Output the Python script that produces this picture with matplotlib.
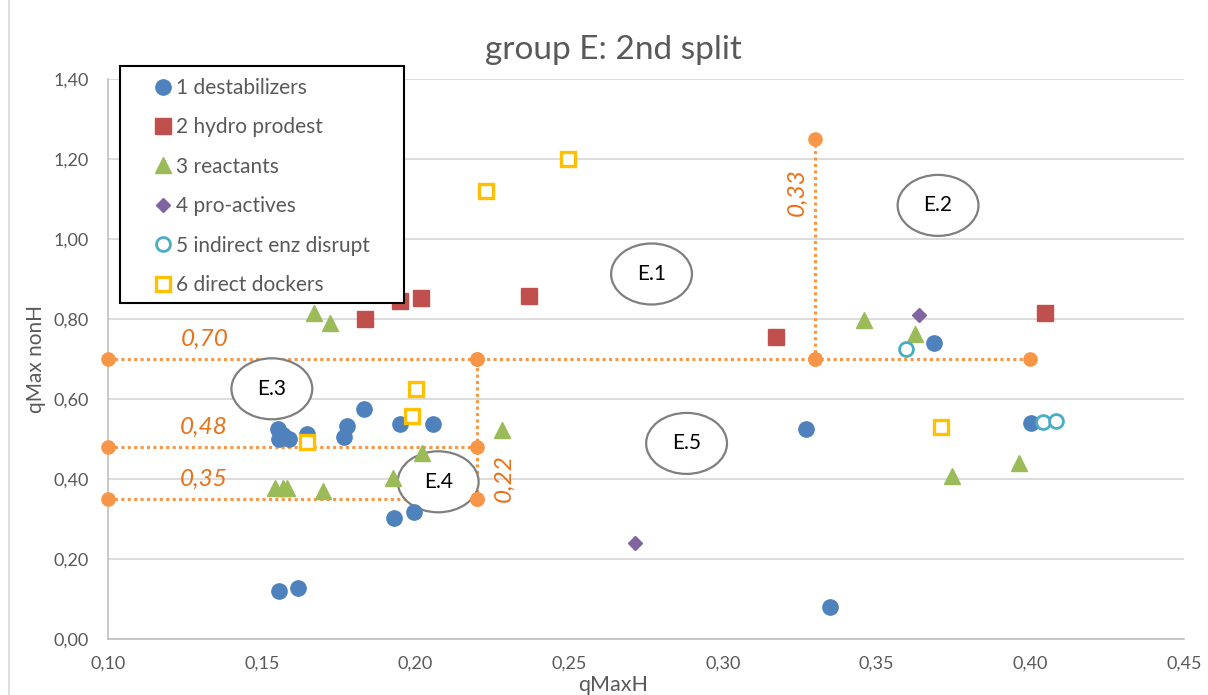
import matplotlib
matplotlib.use("Agg")
import matplotlib.pyplot as plt
from matplotlib.patches import Ellipse, Rectangle
from matplotlib.lines import Line2D

plt.rcParams['font.family'] = ['Lato', 'DejaVu Sans']

# ---- data -------------------------------------------------------------
destab_x = [0.1554, 0.1556, 0.157, 0.159, 0.1647, 0.1776, 0.1769, 0.1834, 0.195, 0.2058,
            0.1931, 0.1996, 0.1556, 0.1619, 0.3272, 0.3348, 0.3686, 0.4002]
destab_y = [0.524, 0.500, 0.510, 0.500, 0.512, 0.532, 0.504, 0.574, 0.537, 0.537,
            0.302, 0.318, 0.120, 0.127, 0.524, 0.081, 0.739, 0.539]

hydro_x = [0.1836, 0.195, 0.2017, 0.237, 0.3172, 0.4048]
hydro_y = [0.799, 0.846, 0.852, 0.857, 0.756, 0.816]

react_x = [0.1671, 0.1722, 0.1543, 0.157, 0.1583, 0.170, 0.1926, 0.202, 0.228,
           0.346, 0.3625, 0.3745, 0.3963]
react_y = [0.814, 0.789, 0.377, 0.377, 0.377, 0.371, 0.402, 0.466, 0.5225,
           0.7975, 0.7625, 0.4075, 0.441]

proact_x = [0.3637, 0.2714]
proact_y = [0.809, 0.239]

indirect_x = [0.3597, 0.4042, 0.4083]
indirect_y = [0.726, 0.542, 0.546]

direct_x = [0.1646, 0.199, 0.2002, 0.223, 0.2495, 0.3708]
direct_y = [0.4925, 0.5575, 0.624, 1.12, 1.20, 0.531]

# threshold guide lines (x values, y values)
thr_h70_x = [0.10, 0.22, 0.33, 0.40]
thr_h70_y = [0.70, 0.70, 0.70, 0.70]
thr_h48_x = [0.10, 0.22]
thr_h48_y = [0.48, 0.48]
thr_h35_x = [0.10, 0.22]
thr_h35_y = [0.35, 0.35]
thr_v22_x = [0.22, 0.22]
thr_v22_y = [0.35, 0.70]
thr_v33_x = [0.33, 0.33]
thr_v33_y = [0.70, 1.25]

thr_labels = ["0,70", "0,48", "0,35", "0,22", "0,33"]

# sub-group markers
group_names = ["E.1", "E.2", "E.3", "E.4", "E.5"]
group_x = [0.2768, 0.370, 0.1533, 0.2074, 0.2882]
group_y = [0.9125, 1.084, 0.6255, 0.393, 0.489]

x_ticks = [0.10, 0.15, 0.20, 0.25, 0.30, 0.35, 0.40, 0.45]
x_ticklabels = ["0,10", "0,15", "0,20", "0,25", "0,30", "0,35", "0,40", "0,45"]
y_ticks = [0.0, 0.2, 0.4, 0.6, 0.8, 1.0, 1.2, 1.4]
y_ticklabels = ["0,00", "0,20", "0,40", "0,60", "0,80", "1,00", "1,20", "1,40"]

series_labels = ["1 destabilizers", "2 hydro prodest", "3 reactants",
                 "4 pro-actives", "5 indirect enz disrupt", "6 direct dockers"]

# ---- style ------------------------------------------------------------
W, H = 1208, 695
BLUE, RED, GREEN, PURPLE, CYAN, GOLD = "#4F81BD", "#C0504D", "#9BBB59", "#8064A2", "#4BACC6", "#FFC000"
ORANGE = "#F79646"
ORANGE_TXT = "#E8711A"
GREY_TXT = "#595959"

fig = plt.figure(figsize=(W / 100, H / 100), dpi=100)
ax = fig.add_axes([108 / W, 1 - 639 / H, (1184 - 108) / W, (639 - 79) / H])

ax.set_xlim(0.10, 0.45)
ax.set_ylim(0.0, 1.40)
ax.set_xticks(x_ticks)
ax.set_xticklabels(x_ticklabels)
ax.set_yticks(y_ticks)
ax.set_yticklabels(y_ticklabels)
ax.tick_params(length=0, labelsize=13, labelcolor=GREY_TXT)
ax.tick_params(axis='x', pad=12)
ax.tick_params(axis='y', pad=14)
ax.grid(axis='y', color="#D9D9D9", lw=1.3)
ax.set_axisbelow(True)
for s in ["top", "right"]:
    ax.spines[s].set_visible(False)
for s in ["left", "bottom"]:
    ax.spines[s].set_color("#BFBFBF")
    ax.spines[s].set_linewidth(1.2)

# threshold lines
dot_style = dict(color=ORANGE, lw=2.2, linestyle=(0, (1, 1.1)), zorder=2, clip_on=False)
for xs, ys in [(thr_h70_x, thr_h70_y), (thr_h48_x, thr_h48_y), (thr_h35_x, thr_h35_y),
               (thr_v22_x, thr_v22_y), (thr_v33_x, thr_v33_y)]:
    ax.plot(xs, ys, **dot_style)
    ax.plot(xs, ys, linestyle="none", marker="o", ms=9.5, color=ORANGE, zorder=4, clip_on=False)

lab_kw = dict(color=ORANGE_TXT, fontsize=17.5, style="italic", zorder=6)
ax.text(0.1315, 0.748, thr_labels[0], ha="center", va="center", **lab_kw)
ax.text(0.131, 0.528, thr_labels[1], ha="center", va="center", **lab_kw)
ax.text(0.131, 0.400, thr_labels[2], ha="center", va="center", **lab_kw)
ax.text(0.2290, 0.402, thr_labels[3], ha="center", va="center", rotation=90, **lab_kw)
ax.text(0.3240, 1.1175, thr_labels[4], ha="center", va="center", rotation=90, **lab_kw)

# sub-group ellipses
for name, gx, gy in zip(group_names, group_x, group_y):
    ax.add_patch(Ellipse((gx, gy), 0.0263, 0.1525, facecolor="white",
                         edgecolor="#7F7F7F", lw=1.6, zorder=3))
    ax.text(gx, gy, name, ha="center", va="center", fontsize=15, color="black", zorder=3.5)

# data series
ax.plot(destab_x, destab_y, "o", ms=11, color=BLUE, mec=BLUE, zorder=5)
ax.plot(hydro_x, hydro_y, "s", ms=11, color=RED, mec=RED, zorder=5)
ax.plot(react_x, react_y, "^", ms=11.5, color=GREEN, mec=GREEN, zorder=5)
ax.plot(proact_x, proact_y, "D", ms=7.3, color=PURPLE, mec=PURPLE, zorder=5)
ax.plot(indirect_x, indirect_y, "o", ms=10, mfc="white", mec=CYAN, mew=2.0, zorder=5)
ax.plot(direct_x, direct_y, "s", ms=10, mfc="white", mec=GOLD, mew=2.4, zorder=5)

# legend
handles = [
    Line2D([], [], ls="none", marker="o", ms=11, color=BLUE),
    Line2D([], [], ls="none", marker="s", ms=11, color=RED),
    Line2D([], [], ls="none", marker="^", ms=11.5, color=GREEN),
    Line2D([], [], ls="none", marker="D", ms=7.3, color=PURPLE),
    Line2D([], [], ls="none", marker="o", ms=10, mfc="white", mec=CYAN, mew=2.0),
    Line2D([], [], ls="none", marker="s", ms=10, mfc="white", mec=GOLD, mew=2.4),
]
leg = fig.legend(handles, series_labels, loc="upper left",
                 bbox_to_anchor=(154 / W, 1 - 78 / H), frameon=False,
                 fontsize=15, handlelength=0.9, handletextpad=0.15,
                 labelspacing=0.93, borderpad=0, borderaxespad=0)
for t in leg.get_texts():
    t.set_color(GREY_TXT)
leg.set_zorder(7)
fig.patches.append(Rectangle((120 / W, 1 - 303 / H), (404 - 120) / W, (303 - 66) / H,
                             transform=fig.transFigure, facecolor="white",
                             edgecolor="black", lw=1.5, zorder=6))

# titles
fig.text(613 / W, 1 - 50 / H, "group E: 2nd split", ha="center", va="center",
         fontsize=24, color=GREY_TXT)
fig.text(613 / W, 1 - 685 / H, "qMaxH", ha="center", va="center",
         fontsize=15.5, color=GREY_TXT)
fig.text(36 / W, 1 - 359 / H, "qMax nonH", ha="center", va="center",
         rotation=90, fontsize=15, color=GREY_TXT)

# chart-area edge on the left
fig.add_artist(Line2D([9 / W, 9 / W], [0, 1], transform=fig.transFigure,
                      color="#D9D9D9", lw=1.2))

fig.savefig("out.png", dpi=100)
